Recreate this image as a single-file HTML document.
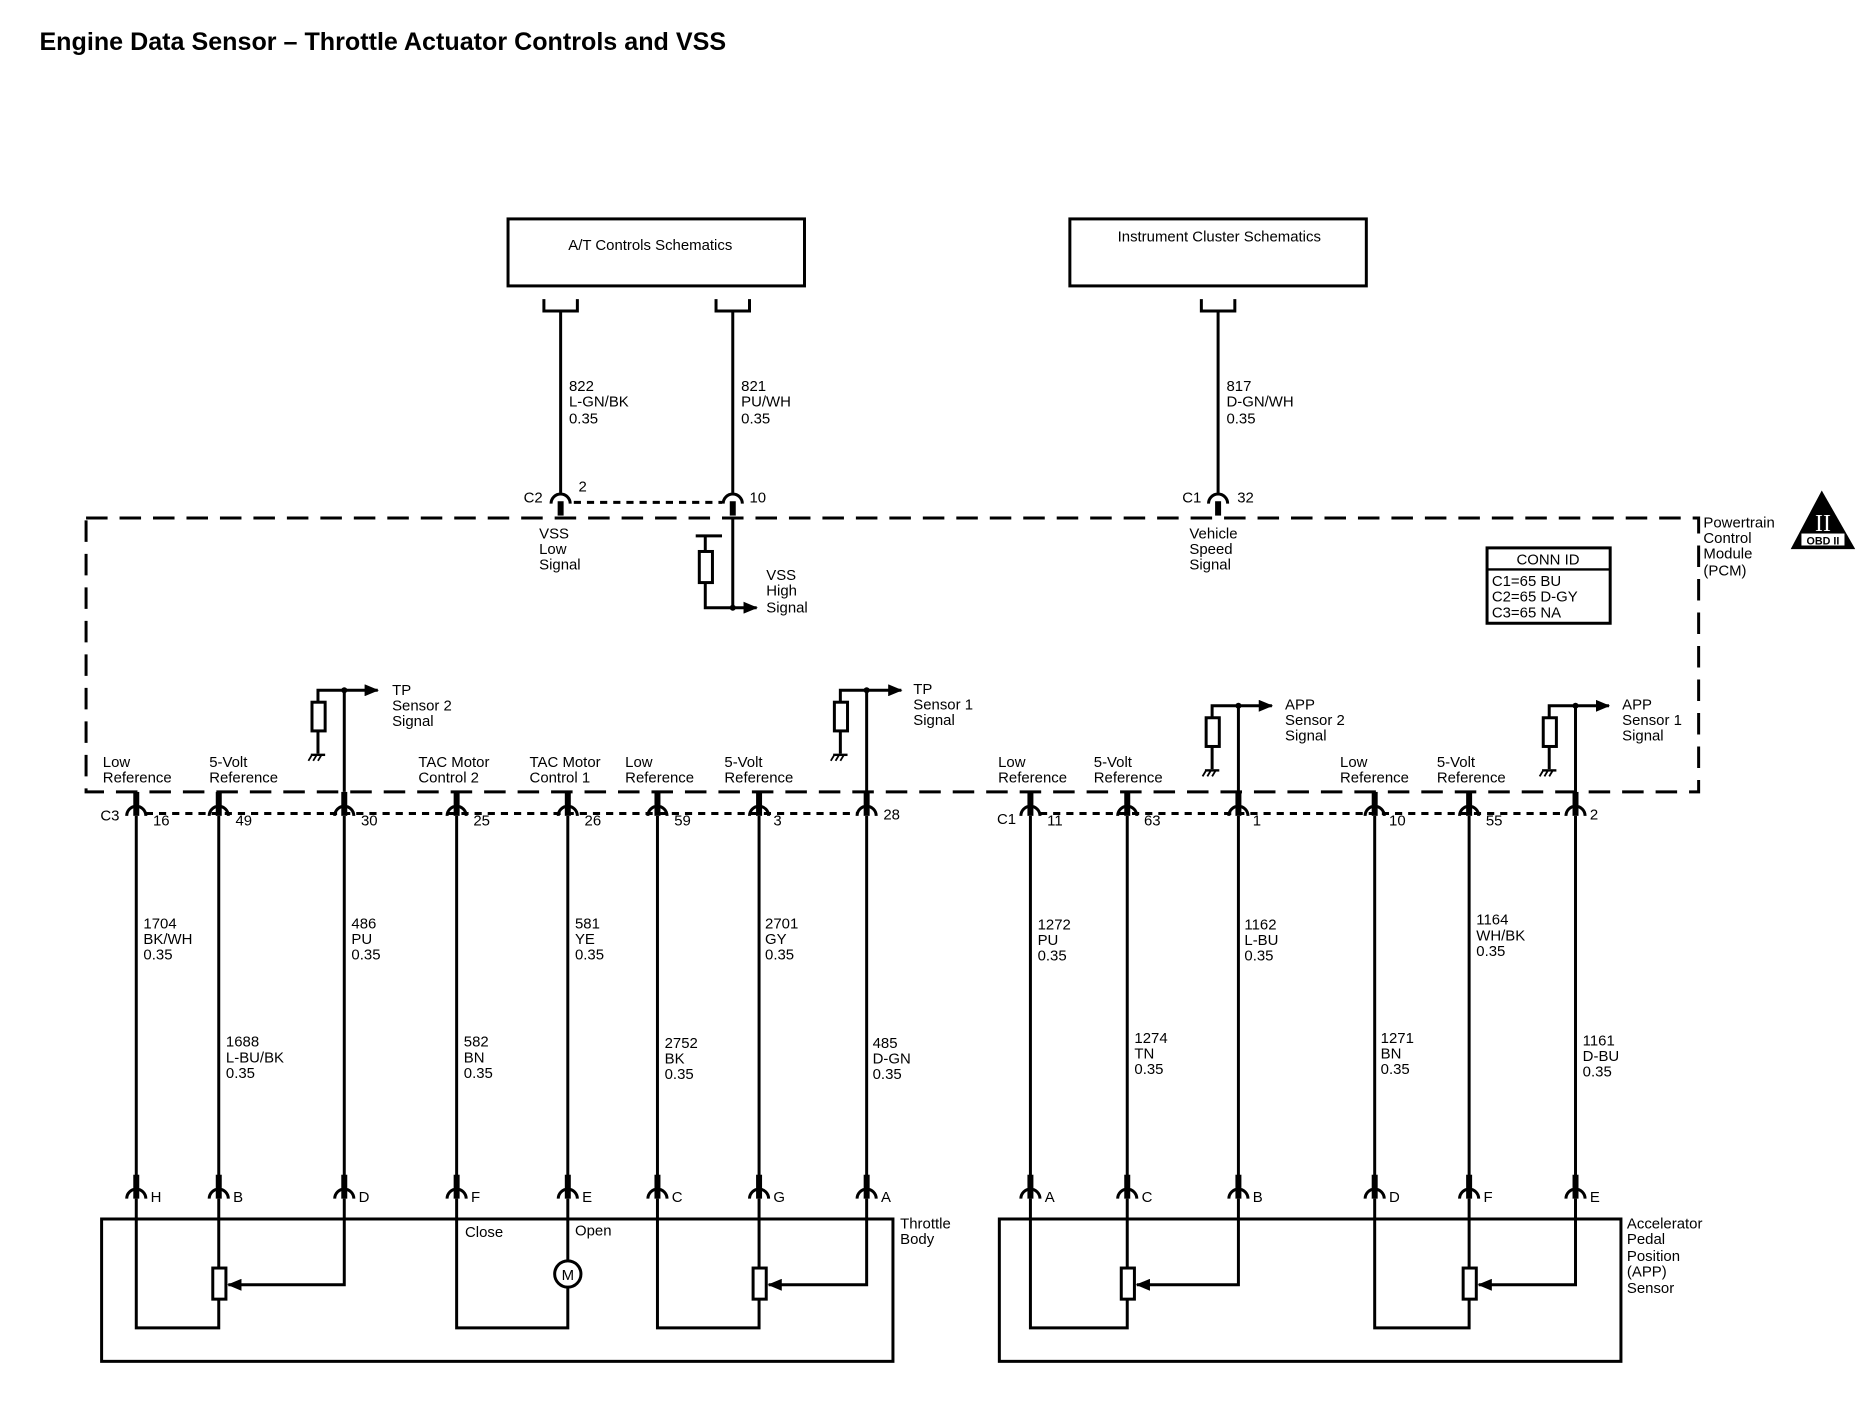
<!DOCTYPE html>
<html><head><meta charset="utf-8"><style>
html,body{margin:0;padding:0;background:#fff;}
svg{display:block;}
text{font-family:"Liberation Sans",sans-serif;font-size:12.5px;fill:#000;}
</style></head><body>
<svg width="1874" height="1408" viewBox="0 0 1567.7 1177" preserveAspectRatio="none" xmlns="http://www.w3.org/2000/svg">
<defs>
<marker id="ar" markerWidth="12" markerHeight="10" refX="11" refY="5" orient="auto" markerUnits="userSpaceOnUse">
<polygon points="0,0 12,5 0,10" fill="#000"/></marker>
<g id="gnd"><line x1="-6" y1="0" x2="6" y2="0" stroke="#000" stroke-width="2"/><line x1="-5" y1="0" x2="-8" y2="5" stroke="#000" stroke-width="1.5"/><line x1="-1" y1="0" x2="-4" y2="5" stroke="#000" stroke-width="1.5"/><line x1="3" y1="0" x2="0" y2="5" stroke="#000" stroke-width="1.5"/></g>
<g id="conn"><path d="M-8,8 A8,8 0 0 1 8,8" fill="none" stroke="#000" stroke-width="2.5"/><rect x="-2.5" y="6" width="5" height="12" fill="#000"/></g>
<g id="bconn"><path d="M-8,8 A8,8 0 0 1 8,8" fill="none" stroke="#000" stroke-width="2.5"/><rect x="-2.5" y="-12" width="5" height="20" fill="#000"/></g>
</defs>
<text x="33" y="42" style="font-size:21px;font-weight:bold">Engine Data Sensor – Throttle Actuator Controls and VSS</text>

<g fill="none" stroke="#000" stroke-width="2.5">
<rect x="425" y="183" width="248" height="56"/>
<rect x="895" y="183" width="248" height="56"/>
<path d="M455,250 V260 H483 V250 M599,250 V260 H627 V250 M1005,250 V260 H1033 V250"/>
</g>
<text x="544" y="209" text-anchor="middle">A/T Controls Schematics</text>
<text x="1020" y="202" text-anchor="middle">Instrument Cluster Schematics</text>

<g stroke="#000" stroke-width="2.5">
<line x1="469" y1="260" x2="469" y2="412"/><line x1="613" y1="260" x2="613" y2="412"/><line x1="1019" y1="260" x2="1019" y2="412"/>
</g>
<text x="476" y="327">822</text><text x="476" y="340">L-GN/BK</text><text x="476" y="354">0.35</text>
<text x="620" y="327">821</text><text x="620" y="340">PU/WH</text><text x="620" y="354">0.35</text>
<text x="1026" y="327">817</text><text x="1026" y="340">D-GN/WH</text><text x="1026" y="354">0.35</text>

<use href="#conn" x="469" y="413"/><use href="#conn" x="613" y="413"/><use href="#conn" x="1019" y="413"/>
<line x1="480" y1="420" x2="604" y2="420" stroke="#000" stroke-width="2.5" stroke-dasharray="6,5"/>
<text x="438" y="420">C2</text><text x="484" y="411">2</text><text x="627" y="420">10</text>
<text x="989" y="420">C1</text><text x="1035" y="420">32</text>

<rect x="72" y="433" width="1349" height="229" fill="none" stroke="#000" stroke-width="2.5" stroke-dasharray="18,10"/>

<text x="451" y="450">VSS</text><text x="451" y="463">Low</text><text x="451" y="476">Signal</text>
<g stroke="#000" stroke-width="2.5" fill="none">
<line x1="613" y1="433" x2="613" y2="508"/>
<line x1="582" y1="448" x2="604" y2="448"/>
<line x1="590" y1="448" x2="590" y2="461"/>
<rect x="585" y="461" width="11" height="26" fill="#fff"/>
<path d="M590,487 V508 H633" marker-end="url(#ar)"/>
</g>
<circle cx="613" cy="508" r="2.5"/>
<text x="641" y="485">VSS</text><text x="641" y="498">High</text><text x="641" y="512">Signal</text>
<text x="995" y="450">Vehicle</text><text x="995" y="463">Speed</text><text x="995" y="476">Signal</text>
<text x="1425" y="441">Powertrain</text><text x="1425" y="454">Control</text><text x="1425" y="467">Module</text><text x="1425" y="481">(PCM)</text>

<polygon points="1524,410 1552,459 1498,459" fill="#000"/>
<text x="1525" y="444" text-anchor="middle" style="font-size:20px;font-family:'Liberation Serif',serif;fill:#fff">II</text>
<rect x="1507" y="446" width="36" height="10" fill="#fff"/>
<text x="1525" y="455" text-anchor="middle" style="font-size:9px;font-weight:bold">OBD II</text>

<rect x="1244" y="458" width="103" height="63" fill="none" stroke="#000" stroke-width="2.5"/>
<line x1="1244" y1="476" x2="1347" y2="476" stroke="#000" stroke-width="2"/>
<text x="1295" y="472" text-anchor="middle">CONN ID</text>
<text x="1248" y="490">C1=65 BU</text><text x="1248" y="503">C2=65 D-GY</text><text x="1248" y="516">C3=65 NA</text>

<text x="86" y="641">Low</text><text x="86" y="654">Reference</text>
<text x="175" y="641">5-Volt</text><text x="175" y="654">Reference</text>
<text x="350" y="641">TAC Motor</text><text x="350" y="654">Control 2</text>
<text x="443" y="641">TAC Motor</text><text x="443" y="654">Control 1</text>
<text x="523" y="641">Low</text><text x="523" y="654">Reference</text>
<text x="606" y="641">5-Volt</text><text x="606" y="654">Reference</text>
<text x="835" y="641">Low</text><text x="835" y="654">Reference</text>
<text x="915" y="641">5-Volt</text><text x="915" y="654">Reference</text>
<text x="1121" y="641">Low</text><text x="1121" y="654">Reference</text>
<text x="1202" y="641">5-Volt</text><text x="1202" y="654">Reference</text>

<g stroke="#000" stroke-width="2.5" fill="none">
<path d="M288,662 V577 H316" marker-end="url(#ar)"/><path d="M288,577 H266 V587"/><rect x="261" y="587" width="11" height="24"/><line x1="266" y1="611" x2="266" y2="630"/>
<path d="M725,662 V577 H754" marker-end="url(#ar)"/><path d="M725,577 H703 V587"/><rect x="698" y="587" width="11" height="24"/><line x1="703" y1="611" x2="703" y2="630"/>
<path d="M1036,662 V590 H1064" marker-end="url(#ar)"/><path d="M1036,590 H1014 V600"/><rect x="1009" y="600" width="11" height="24"/><line x1="1014" y1="624" x2="1014" y2="643"/>
<path d="M1318,662 V590 H1346" marker-end="url(#ar)"/><path d="M1318,590 H1296 V600"/><rect x="1291" y="600" width="11" height="24"/><line x1="1296" y1="624" x2="1296" y2="643"/>
</g>
<circle cx="288" cy="577" r="2.5"/><circle cx="725" cy="577" r="2.5"/><circle cx="1036" cy="590" r="2.5"/><circle cx="1318" cy="590" r="2.5"/>
<use href="#gnd" x="266" y="631"/><use href="#gnd" x="703" y="631"/><use href="#gnd" x="1014" y="644"/><use href="#gnd" x="1296" y="644"/>
<text x="328" y="581">TP</text><text x="328" y="594">Sensor 2</text><text x="328" y="607">Signal</text>
<text x="764" y="580">TP</text><text x="764" y="593">Sensor 1</text><text x="764" y="606">Signal</text>
<text x="1075" y="593">APP</text><text x="1075" y="606">Sensor 2</text><text x="1075" y="619">Signal</text>
<text x="1357" y="593">APP</text><text x="1357" y="606">Sensor 1</text><text x="1357" y="619">Signal</text>

<g>
<use href="#bconn" x="114" y="674"/><use href="#bconn" x="183" y="674"/><use href="#bconn" x="288" y="674"/><use href="#bconn" x="382" y="674"/>
<use href="#bconn" x="475" y="674"/><use href="#bconn" x="550" y="674"/><use href="#bconn" x="635" y="674"/><use href="#bconn" x="725" y="674"/>
<use href="#bconn" x="862" y="674"/><use href="#bconn" x="943" y="674"/><use href="#bconn" x="1036" y="674"/><use href="#bconn" x="1150" y="674"/>
<use href="#bconn" x="1229" y="674"/><use href="#bconn" x="1318" y="674"/>
</g>
<line x1="122" y1="680" x2="717" y2="680" stroke="#000" stroke-width="2.5" stroke-dasharray="6,5"/>
<line x1="870" y1="680" x2="1310" y2="680" stroke="#000" stroke-width="2.5" stroke-dasharray="6,5"/>
<text x="84" y="686">C3</text><text x="834" y="689">C1</text>
<text x="128" y="690">16</text><text x="197" y="690">49</text><text x="302" y="690">30</text><text x="396" y="690">25</text><text x="489" y="690">26</text><text x="564" y="690">59</text><text x="647" y="690">3</text><text x="739" y="685">28</text>
<text x="876" y="690">11</text><text x="957" y="690">63</text><text x="1048" y="690">1</text><text x="1162" y="690">10</text><text x="1243" y="690">55</text><text x="1330" y="685">2</text>

<g stroke="#000" stroke-width="2.5">
<line x1="114" y1="682" x2="114" y2="996"/><line x1="183" y1="682" x2="183" y2="996"/><line x1="288" y1="682" x2="288" y2="996"/><line x1="382" y1="682" x2="382" y2="996"/>
<line x1="475" y1="682" x2="475" y2="996"/><line x1="550" y1="682" x2="550" y2="996"/><line x1="635" y1="682" x2="635" y2="996"/><line x1="725" y1="682" x2="725" y2="996"/>
<line x1="862" y1="682" x2="862" y2="996"/><line x1="943" y1="682" x2="943" y2="996"/><line x1="1036" y1="682" x2="1036" y2="996"/><line x1="1150" y1="682" x2="1150" y2="996"/>
<line x1="1229" y1="682" x2="1229" y2="996"/><line x1="1318" y1="682" x2="1318" y2="996"/>
</g>
<text x="120" y="776">1704</text><text x="120" y="789">BK/WH</text><text x="120" y="802">0.35</text>
<text x="189" y="875">1688</text><text x="189" y="888">L-BU/BK</text><text x="189" y="901">0.35</text>
<text x="294" y="776">486</text><text x="294" y="789">PU</text><text x="294" y="802">0.35</text>
<text x="388" y="875">582</text><text x="388" y="888">BN</text><text x="388" y="901">0.35</text>
<text x="481" y="776">581</text><text x="481" y="789">YE</text><text x="481" y="802">0.35</text>
<text x="556" y="876">2752</text><text x="556" y="889">BK</text><text x="556" y="902">0.35</text>
<text x="640" y="776">2701</text><text x="640" y="789">GY</text><text x="640" y="802">0.35</text>
<text x="730" y="876">485</text><text x="730" y="889">D-GN</text><text x="730" y="902">0.35</text>
<text x="868" y="777">1272</text><text x="868" y="790">PU</text><text x="868" y="803">0.35</text>
<text x="949" y="872">1274</text><text x="949" y="885">TN</text><text x="949" y="898">0.35</text>
<text x="1041" y="777">1162</text><text x="1041" y="790">L-BU</text><text x="1041" y="803">0.35</text>
<text x="1155" y="872">1271</text><text x="1155" y="885">BN</text><text x="1155" y="898">0.35</text>
<text x="1235" y="773">1164</text><text x="1235" y="786">WH/BK</text><text x="1235" y="799">0.35</text>
<text x="1324" y="874">1161</text><text x="1324" y="887">D-BU</text><text x="1324" y="900">0.35</text>

<g>
<use href="#bconn" x="114" y="994"/><use href="#bconn" x="183" y="994"/><use href="#bconn" x="288" y="994"/><use href="#bconn" x="382" y="994"/>
<use href="#bconn" x="475" y="994"/><use href="#bconn" x="550" y="994"/><use href="#bconn" x="635" y="994"/><use href="#bconn" x="725" y="994"/>
<use href="#bconn" x="862" y="994"/><use href="#bconn" x="943" y="994"/><use href="#bconn" x="1036" y="994"/><use href="#bconn" x="1150" y="994"/>
<use href="#bconn" x="1229" y="994"/><use href="#bconn" x="1318" y="994"/>
</g>
<text x="126" y="1005">H</text><text x="195" y="1005">B</text><text x="300" y="1005">D</text><text x="394" y="1005">F</text><text x="487" y="1005">E</text><text x="562" y="1005">C</text><text x="647" y="1005">G</text><text x="737" y="1005">A</text>
<text x="874" y="1005">A</text><text x="955" y="1005">C</text><text x="1048" y="1005">B</text><text x="1162" y="1005">D</text><text x="1241" y="1005">F</text><text x="1330" y="1005">E</text>

<g fill="none" stroke="#000" stroke-width="2.5">
<rect x="85" y="1019" width="662" height="119"/>
<rect x="836" y="1019" width="520" height="119"/>
<path d="M114,1002 V1110 H183 V1086"/><path d="M183,1002 V1060"/><rect x="178" y="1060" width="11" height="26"/>
<path d="M288,1002 V1074 H191" marker-end="url(#ar)"/>
<path d="M382,1002 V1110 H475 V1076"/><path d="M475,1002 V1054"/><circle cx="475" cy="1065" r="11"/>
<path d="M550,1002 V1110 H635 V1086"/><path d="M635,1002 V1060"/><rect x="630" y="1060" width="11" height="26"/>
<path d="M725,1002 V1074 H643" marker-end="url(#ar)"/>
<path d="M862,1002 V1110 H943 V1086"/><path d="M943,1002 V1060"/><rect x="938" y="1060" width="11" height="26"/>
<path d="M1036,1002 V1074 H951" marker-end="url(#ar)"/>
<path d="M1150,1002 V1110 H1229 V1086"/><path d="M1229,1002 V1060"/><rect x="1224" y="1060" width="11" height="26"/>
<path d="M1318,1002 V1074 H1237" marker-end="url(#ar)"/>
</g>
<text x="475" y="1070" text-anchor="middle">M</text>
<text x="389" y="1034">Close</text><text x="481" y="1033">Open</text>
<text x="753" y="1027">Throttle</text><text x="753" y="1040">Body</text>
<text x="1361" y="1027">Accelerator</text><text x="1361" y="1040">Pedal</text><text x="1361" y="1054">Position</text><text x="1361" y="1067">(APP)</text><text x="1361" y="1081">Sensor</text>
</svg>
</body></html>
